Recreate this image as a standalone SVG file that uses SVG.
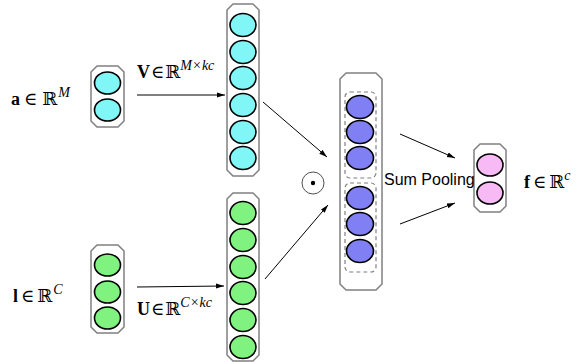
<svg xmlns="http://www.w3.org/2000/svg" width="577" height="362" viewBox="0 0 577 362">
  <defs>
    <marker id="arrow" markerWidth="8" markerHeight="6" refX="8" refY="3" orient="auto" markerUnits="userSpaceOnUse">
      <path d="M0,0.5 L8,3 L0,5.5 Z" fill="#000"/>
    </marker>
  </defs>
  <style>
    .box { fill: #fff; stroke: #808080; stroke-width: 1.5; stroke-linejoin: round; }
    .cell { stroke: #000; stroke-width: 1.6; }
    .cyan { fill: #80f6f6; }
    .green { fill: #80f280; }
    .purple { fill: #8080f4; }
    .pink { fill: #f8baf4; }
    .group { fill: none; stroke: #808080; stroke-width: 1.2; stroke-dasharray: 4 3; }
    .conn { stroke: #000; stroke-width: 1; fill: none; marker-end: url(#arrow); }
    .math { font-family: "Liberation Serif", "DejaVu Serif", serif; font-size: 18px; fill: #000; }
    .sym { font-family: "DejaVu Serif", serif; font-size: 18px; }
    .sup { font-size: 14px; font-style: italic; }
    .b { font-weight: bold; }
    .label { font-family: "Liberation Sans", Arial, sans-serif; font-size: 16px; fill: #000; }
  </style>

  <!-- input vector a -->
  <g id="node-a">
    <path class="box" d="M97,66 L118,66 L124,72 L124,121 L118,127 L97,127 L91,121 L91,72 Z"/>
    <ellipse class="cell cyan" cx="107.5" cy="83" rx="13" ry="11"/>
    <ellipse class="cell cyan" cx="107.5" cy="110" rx="13" ry="11"/>
    <text class="math" x="11" y="105"><tspan class="b">a</tspan><tspan class="sym" dx="4">∈</tspan><tspan class="sym" dx="5">ℝ</tspan><tspan class="sup" dx="1" dy="-8">M</tspan></text>
  </g>

  <!-- input vector l -->
  <g id="node-l">
    <path class="box" d="M97,245 L118,245 L124,251 L124,327 L118,333 L97,333 L91,327 L91,251 Z"/>
    <ellipse class="cell green" cx="107.5" cy="265" rx="13" ry="11"/>
    <ellipse class="cell green" cx="107.5" cy="292" rx="13" ry="11"/>
    <ellipse class="cell green" cx="107.5" cy="318" rx="13" ry="11"/>
    <text class="math" x="13" y="302"><tspan class="b">l</tspan><tspan class="sym" dx="3">∈</tspan><tspan class="sym" dx="3">ℝ</tspan><tspan class="sup" dx="1" dy="-8">C</tspan></text>
  </g>

  <!-- projection V a -->
  <g id="node-Va">
    <path class="box" d="M233,4 L253,4 L259,10 L259,170 L253,176 L233,176 L227,170 L227,10 Z"/>
    <ellipse class="cell cyan" cx="243" cy="25" rx="13" ry="11.5"/>
    <ellipse class="cell cyan" cx="243" cy="52" rx="13" ry="11.5"/>
    <ellipse class="cell cyan" cx="243" cy="78" rx="13" ry="11.5"/>
    <ellipse class="cell cyan" cx="243" cy="105" rx="13" ry="11.5"/>
    <ellipse class="cell cyan" cx="243" cy="132" rx="13" ry="11.5"/>
    <ellipse class="cell cyan" cx="243" cy="158" rx="13" ry="11.5"/>
  </g>

  <!-- projection U l -->
  <g id="node-Ul">
    <path class="box" d="M233,193 L253,193 L259,199 L259,355 L253,361 L233,361 L227,355 L227,199 Z"/>
    <ellipse class="cell green" cx="243" cy="213" rx="13" ry="11.5"/>
    <ellipse class="cell green" cx="243" cy="240" rx="13" ry="11.5"/>
    <ellipse class="cell green" cx="243" cy="267" rx="13" ry="11.5"/>
    <ellipse class="cell green" cx="243" cy="293" rx="13" ry="11.5"/>
    <ellipse class="cell green" cx="243" cy="320" rx="13" ry="11.5"/>
    <ellipse class="cell green" cx="243" cy="347" rx="13" ry="11.5"/>
  </g>

  <!-- element-wise product operator -->
  <g id="node-odot">
    <circle cx="313" cy="183" r="11" fill="#fff" stroke="#505050" stroke-width="1"/>
    <circle cx="313" cy="183" r="2.2" fill="#000"/>
  </g>

  <!-- product vector, split into groups -->
  <g id="node-product">
    <path class="box" d="M346,73 L376,73 L382,79 L382,284 L376,290 L346,290 L340,284 L340,79 Z"/>
    <rect class="group" x="345" y="92" width="31" height="86" rx="5"/>
    <rect class="group" x="345" y="183" width="31" height="89" rx="5"/>
    <ellipse class="cell purple" cx="360" cy="107" rx="13.5" ry="11.5"/>
    <ellipse class="cell purple" cx="360" cy="132" rx="13.5" ry="11.5"/>
    <ellipse class="cell purple" cx="360" cy="158" rx="13.5" ry="11.5"/>
    <ellipse class="cell purple" cx="360" cy="198" rx="13.5" ry="11.5"/>
    <ellipse class="cell purple" cx="360" cy="224" rx="13.5" ry="11.5"/>
    <ellipse class="cell purple" cx="360" cy="251" rx="13.5" ry="11.5"/>
  </g>

  <!-- pooled output f -->
  <g id="node-f">
    <path class="box" d="M480,144 L500,144 L506,150 L506,206 L500,212 L480,212 L474,206 L474,150 Z"/>
    <ellipse class="cell pink" cx="490" cy="165" rx="13" ry="11"/>
    <ellipse class="cell pink" cx="490" cy="193" rx="13" ry="11"/>
    <text class="math" x="524" y="188"><tspan class="b">f</tspan><tspan class="sym" dx="3">∈</tspan><tspan class="sym" dx="3">ℝ</tspan><tspan class="sup" dy="-8">c</tspan></text>
  </g>

  <!-- connectors -->
  <g id="connectors">
    <line class="conn" x1="137" y1="95" x2="225" y2="95"/>
    <line class="conn" x1="137" y1="287" x2="224" y2="286"/>
    <line class="conn" x1="263" y1="102" x2="327" y2="157"/>
    <line class="conn" x1="265" y1="279" x2="328" y2="205"/>
    <line class="conn" x1="400" y1="134" x2="455" y2="158"/>
    <line class="conn" x1="400" y1="224" x2="455" y2="203"/>
    <text class="math" x="137" y="78"><tspan class="b">V</tspan><tspan class="sym" dx="1">∈</tspan><tspan class="sym" dx="1">ℝ</tspan><tspan class="sup" dy="-8">M<tspan font-style="normal" dx="1">×</tspan><tspan dx="1">kc</tspan></tspan></text>
    <text class="math" x="137" y="315"><tspan class="b">U</tspan><tspan class="sym" dx="1">∈</tspan><tspan class="sym" dx="1">ℝ</tspan><tspan class="sup" dy="-8">C<tspan font-style="normal" dx="1">×</tspan><tspan dx="1">kc</tspan></tspan></text>
    <text class="label" x="384" y="185">Sum Pooling</text>
  </g>
</svg>
